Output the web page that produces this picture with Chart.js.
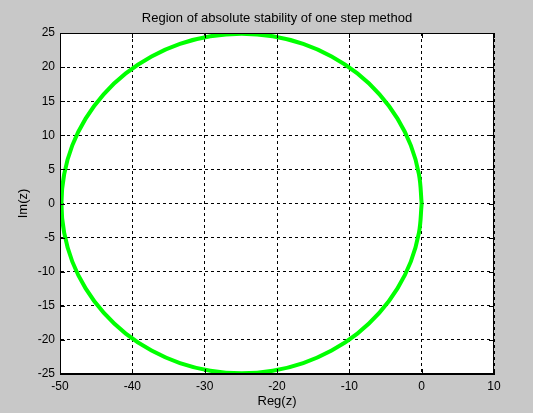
<!DOCTYPE html>
<html>
<head>
<meta charset="utf-8">
<script src="https://cdn.jsdelivr.net/npm/chart.js@4/dist/chart.umd.min.js"></script>
<style>
  html, body { margin: 0; padding: 0; background: #c8c8c8; }
  #wrap { width: 533px; height: 413px; }
</style>
</head>
<body>
<div id="wrap"><canvas id="grafico" width="533" height="413"></canvas></div>
<script>
// boundary of the stability region (Re, Im)
const reZ = [0, -0.38, -1.5, -3.34, -5.83, -8.89, -12.45, -16.38, -20.58, -24.9,
  -29.22, -33.42, -37.35, -40.91, -43.97, -46.46, -48.3, -49.42, -49.8,
  -49.42, -48.3, -46.46, -43.97, -40.91, -37.35, -33.42, -29.22, -24.9,
  -20.58, -16.38, -12.45, -8.89, -5.83, -3.34, -1.5, -0.38, 0];
const imZ = [0, 4.32, 8.52, 12.45, 16.01, 19.07, 21.56, 23.4, 24.52, 24.9,
  24.52, 23.4, 21.56, 19.07, 16.01, 12.45, 8.52, 4.32, 0,
  -4.32, -8.52, -12.45, -16.01, -19.07, -21.56, -23.4, -24.52, -24.9,
  -24.52, -23.4, -21.56, -19.07, -16.01, -12.45, -8.52, -4.32, 0];

const xTicks = [-50, -40, -30, -20, -10, 0, 10];
const yTicks = [-25, -20, -15, -10, -5, 0, 5, 10, 15, 20, 25];

const titulo = 'Region of absolute stability of one step method';

const pontos = reZ.map((x, i) => ({ x: x, y: imZ[i] }));

const fonte = { family: "'Liberation Sans', Arial, sans-serif", size: 12, weight: 'normal' };
const fonteTitulo = { family: "'Liberation Sans', Arial, sans-serif", size: 13, weight: 'normal' };

// white axes background, title, solid box with inward ticks (matlab look)
const caixa = {
  id: 'caixa',
  beforeDraw(chart) {
    const a = chart.chartArea;
    const c = chart.ctx;
    c.save();
    c.fillStyle = '#ffffff';
    c.fillRect(a.left, a.top, a.right - a.left, a.bottom - a.top);
    c.fillStyle = '#000';
    c.font = "13px 'Liberation Sans', Arial, sans-serif";
    c.textAlign = 'center';
    c.textBaseline = 'middle';
    c.fillText(titulo, (a.left + a.right) / 2, 18);
    c.restore();
  },
  afterDraw(chart) {
    const a = chart.chartArea;
    const c = chart.ctx;
    const sx = chart.scales.x, sy = chart.scales.y;
    c.save();
    c.strokeStyle = '#000';
    c.lineWidth = 1;
    c.setLineDash([]);
    c.strokeRect(a.left + 0.5, a.top + 0.5, a.right - a.left - 1, a.bottom - a.top - 1);
    c.beginPath();
    xTicks.forEach(v => {
      const px = Math.round(sx.getPixelForValue(v)) + 0.5;
      c.moveTo(px, a.bottom); c.lineTo(px, a.bottom - 5);
      c.moveTo(px, a.top); c.lineTo(px, a.top + 5);
    });
    yTicks.forEach(v => {
      const py = Math.round(sy.getPixelForValue(v)) + 0.5;
      c.moveTo(a.left, py); c.lineTo(a.left + 5, py);
      c.moveTo(a.right, py); c.lineTo(a.right - 5, py);
    });
    c.stroke();
    c.restore();
  }
};

const ctx = document.getElementById('grafico').getContext('2d');
const myChart = new Chart(ctx, {
  type: 'scatter',
  data: {
    datasets: [
      {
        label: 'fronteira',
        data: pontos,
        showLine: true,
        borderColor: '#00ff00',
        backgroundColor: '#00ff00',
        borderWidth: 4,
        pointRadius: 0,
        tension: 0.4
      }
    ]
  },
  options: {
    responsive: false,
    animation: false,
    layout: { padding: { left: 0, right: 39, top: 33, bottom: 0 } },
    plugins: {
      legend: { display: false },
      tooltip: { enabled: false },
      title: { display: false }
    },
    scales: {
      x: {
        type: 'linear',
        min: -50,
        max: 10,
        afterFit(s) { s.height = 39; },
        afterBuildTicks(s) { s.ticks = xTicks.map(v => ({ value: v })); },
        ticks: { color: '#000', font: fonte, padding: 5, maxRotation: 0 },
        grid: { color: '#000', lineWidth: 1, drawTicks: false },
        border: { color: '#000', width: 1, dash: [3, 3] },
        title: { display: true, text: 'Reg(z)', color: '#000', font: fonteTitulo, padding: { top: 0, bottom: 4 } }
      },
      y: {
        type: 'linear',
        min: -25,
        max: 25,
        afterFit(s) { s.width = 60; },
        afterBuildTicks(s) { s.ticks = yTicks.map(v => ({ value: v })); },
        ticks: { color: '#000', font: fonte, padding: 5 },
        grid: { color: '#000', lineWidth: 1, drawTicks: false },
        border: { color: '#000', width: 1, dash: [3, 3] },
        title: { display: true, text: 'Im(z)', color: '#000', font: fonteTitulo, padding: { top: 16, bottom: 0 } }
      }
    }
  },
  plugins: [caixa]
});
</script>
</body>
</html>
